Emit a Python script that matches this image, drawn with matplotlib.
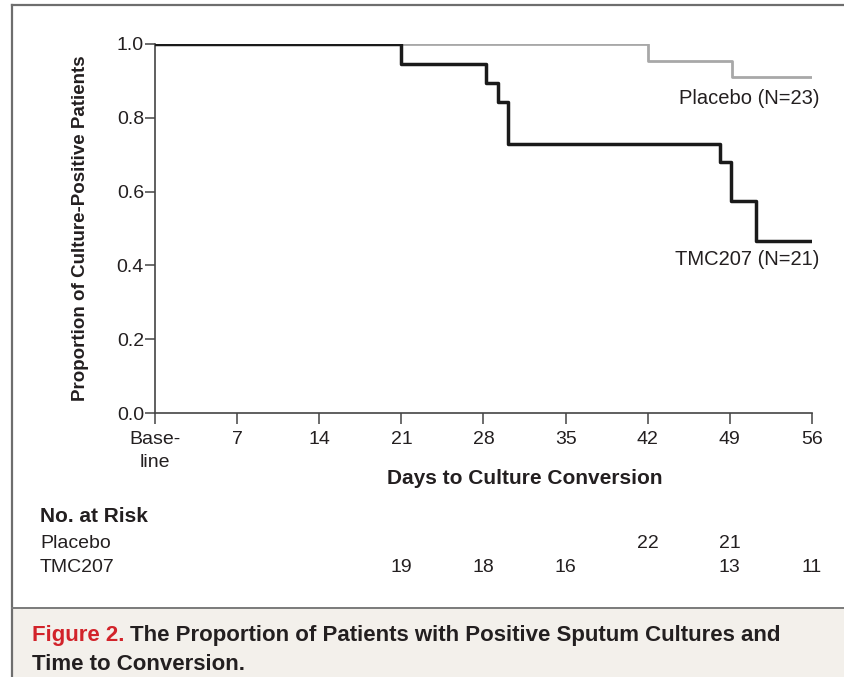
import numpy as np
import matplotlib
matplotlib.use("Agg")
import matplotlib.pyplot as plt
import matplotlib.transforms as mtransforms
from matplotlib.patches import Rectangle
from matplotlib.lines import Line2D

plt.rcParams['font.family'] = ['Liberation Sans', 'DejaVu Sans']

# step curves (day, proportion still culture-positive)
tmc_days = [0, 21, 28.2, 29.2, 30.1, 48.2, 49.1, 51.2, 56.2]
tmc_prop = [1.0, 0.947, 0.895, 0.842, 0.73, 0.68, 0.575, 0.467, 0.467]
pla_days = [0, 42, 49.2, 56.2]
pla_prop = [1.0, 0.955, 0.91, 0.91]

xticks = [0, 7, 14, 21, 28, 35, 42, 49, 56]
xticklabels = ['Base-\nline', '7', '14', '21', '28', '35', '42', '49', '56']
yticks = [0.0, 0.2, 0.4, 0.6, 0.8, 1.0]

risk_days = [21, 28, 35, 42, 49, 56]
risk_placebo = ['', '', '', '22', '21', '']
risk_tmc = ['19', '18', '16', '', '13', '11']

txt = '#231f20'

fig = plt.figure(figsize=(8.44, 6.77), dpi=100)
W, H = 844, 677

# frame + caption panel
fig.patches.append(Rectangle((12 / W, 0), 1 - 12 / W, 1 - 608 / H, transform=fig.transFigure,
                             facecolor='#f3f0eb', edgecolor='none', zorder=0))
fig.lines.append(Line2D([12 / W, 12 / W], [0, 1 - 5 / H], transform=fig.transFigure, color='#6e6e6e', lw=1.6))
fig.lines.append(Line2D([12 / W, 1], [1 - 5 / H, 1 - 5 / H], transform=fig.transFigure, color='#6e6e6e', lw=1.6))
fig.lines.append(Line2D([12 / W, 1], [1 - 608 / H, 1 - 608 / H], transform=fig.transFigure, color='#7a7a7a', lw=1.4))

ax = fig.add_axes([155 / W, 1 - 413 / H, (812 - 155) / W, (413 - 44) / H])
ax.step(pla_days, pla_prop, where='post', color='#a8a8a8', lw=2.0, zorder=2)
ax.step(tmc_days, tmc_prop, where='post', color='#1a1a1a', lw=2.5, zorder=3)

ax.set_xlim(0, 56)
ax.set_ylim(0, 1.0)
ax.set_xticks(xticks)
ax.set_xticklabels(xticklabels, fontsize=14, color=txt, linespacing=1.45, va='top')
ax.set_yticks(yticks)
ax.set_yticklabels([f'{v:.1f}' for v in yticks], fontsize=14, color=txt)
ax.tick_params(axis='x', direction='out', length=8, width=1.1, color='#444444', pad=5)
ax.tick_params(axis='y', direction='out', length=7, width=1.1, color='#444444', pad=1)
for s in ['top', 'right']:
    ax.spines[s].set_visible(False)
for s in ['left', 'bottom']:
    ax.spines[s].set_color('#444444')
    ax.spines[s].set_linewidth(1.2)
ax.patch.set_alpha(0)

ax.set_ylabel('Proportion of Culture-Positive Patients', fontsize=13.5, fontweight='bold',
              color=txt, labelpad=20)

ax.text(56.6, 0.852, 'Placebo (N=23)', ha='right', va='center', fontsize=14.5, color=txt)
ax.text(56.6, 0.415, 'TMC207 (N=21)', ha='right', va='center', fontsize=14.5, color=txt)

fig.text(525 / W, 1 - 478 / H, 'Days to Culture Conversion', ha='center', va='center',
         fontsize=15, fontweight='bold', color=txt)

# number at risk table
fig.text(40 / W, 1 - 517 / H, 'No. at Risk', ha='left', va='center', fontsize=15,
         fontweight='bold', color=txt)
fig.text(40 / W, 1 - 543 / H, 'Placebo', ha='left', va='center', fontsize=14, color=txt)
fig.text(40 / W, 1 - 568 / H, 'TMC207', ha='left', va='center', fontsize=14, color=txt)
blend = mtransforms.blended_transform_factory(ax.transData, fig.transFigure)
for d, p, t in zip(risk_days, risk_placebo, risk_tmc):
    fig.text(d, 1 - 543 / H, p, ha='center', va='center', fontsize=14, color=txt, transform=blend)
    fig.text(d, 1 - 568 / H, t, ha='center', va='center', fontsize=14, color=txt, transform=blend)

# caption
fig_lbl = fig.text(32 / W, 1 - 646 / H, 'Figure 2.', ha='left', va='bottom', fontsize=16,
                   fontweight='bold', color='#d2232a')
fig.add_artist(plt.Annotation('The Proportion of Patients with Positive Sputum Cultures and',
                              xy=(1, 0), xycoords=fig_lbl, xytext=(4, 0), textcoords='offset points',
                              ha='left', va='bottom', fontsize=16, fontweight='bold', color=txt))
fig.text(32 / W, 1 - 664 / H, 'Time to Conversion.', ha='left', va='center', fontsize=16,
         fontweight='bold', color=txt)

fig.savefig('out.png', dpi=100)
